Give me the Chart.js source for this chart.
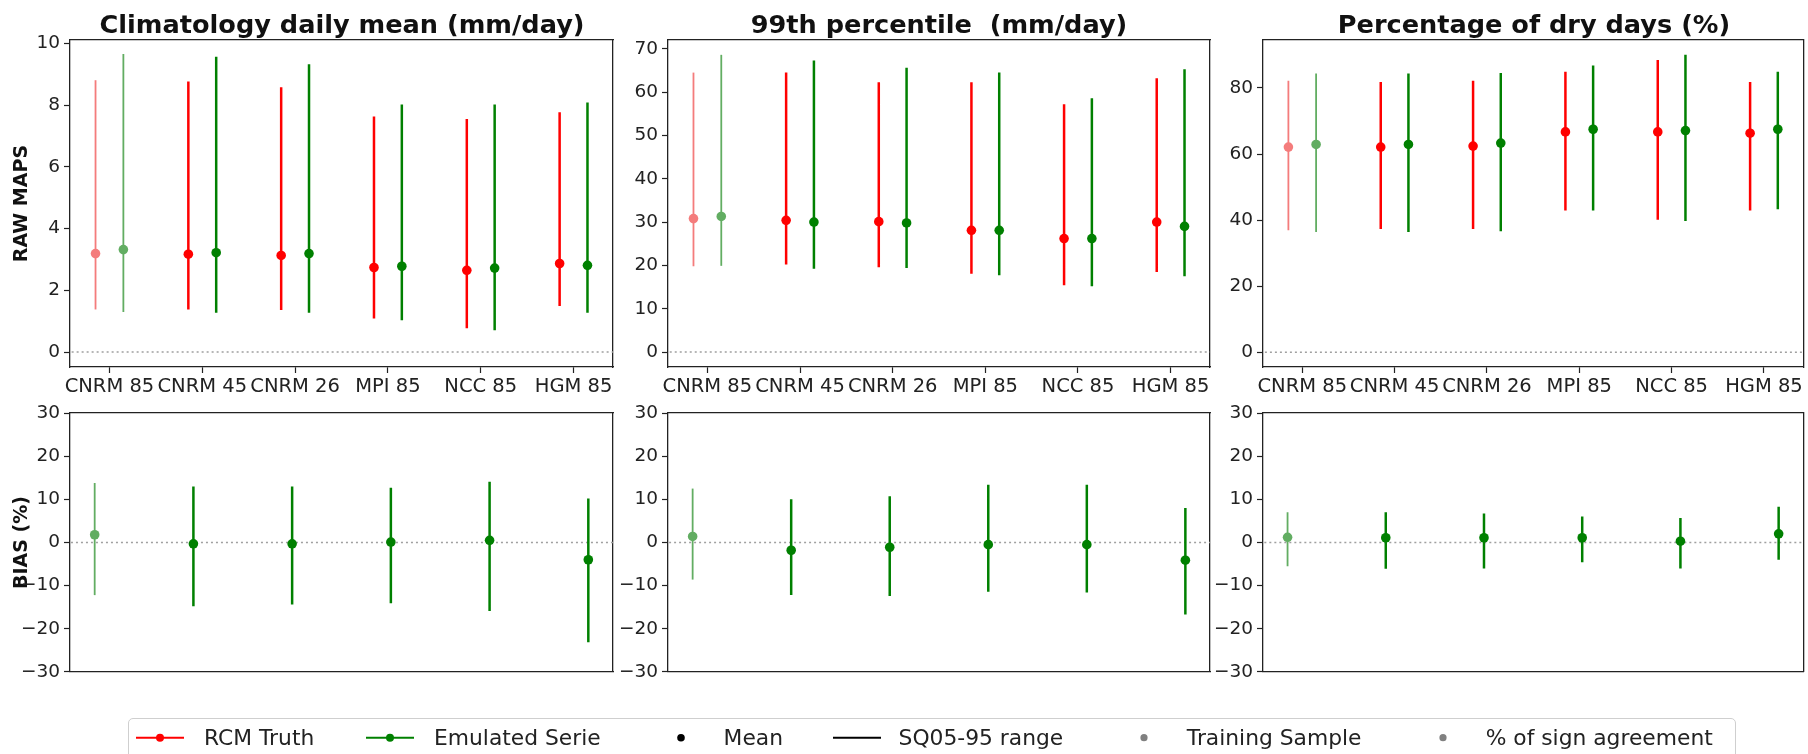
<!DOCTYPE html>
<html><head><meta charset="utf-8">
<script src="https://cdn.jsdelivr.net/npm/chart.js@4.4.1/dist/chart.umd.min.js"></script>
<style>
body{margin:0;background:#fff;}
#root{position:relative;width:1808px;height:754px;overflow:hidden;background:#fff;font-family:'DejaVu Sans',sans-serif;color:#111;}
canvas{position:absolute;}
.ttl{position:absolute;width:700px;text-align:center;font-weight:bold;font-size:25.6px;line-height:30px;white-space:pre;top:8.6px;color:#111;}
.leg{position:absolute;font-size:21.8px;line-height:26px;white-space:pre;top:724.5px;color:#222;}
#legbox{position:absolute;left:128px;top:718px;width:1608px;height:60px;border:1px solid #cfcfcf;border-radius:5px;box-sizing:border-box;}
#legsvg{position:absolute;left:0;top:0;}
</style></head>
<body><div id="root">
<canvas id="c00"></canvas><canvas id="c01"></canvas><canvas id="c02"></canvas>
<canvas id="c10"></canvas><canvas id="c11"></canvas><canvas id="c12"></canvas>
<div class="ttl" style="left:-8px">Climatology daily mean (mm/day)</div>
<div class="ttl" style="left:589px">99th percentile  (mm/day)</div>
<div class="ttl" style="left:1184px">Percentage of dry days (%)</div>
<div id="legbox"></div>
<svg id="legsvg" width="1808" height="754">
  <line x1="136" y1="737.7" x2="184" y2="737.7" stroke="#ff0000" stroke-width="2"/>
  <circle cx="160" cy="737.7" r="4" fill="#ff0000"/>
  <line x1="366" y1="737.7" x2="414" y2="737.7" stroke="#008000" stroke-width="2"/>
  <circle cx="390" cy="737.7" r="4" fill="#008000"/>
  <circle cx="681" cy="737.7" r="3.8" fill="#000"/>
  <line x1="833" y1="737.7" x2="881" y2="737.7" stroke="#000" stroke-width="2"/>
  <circle cx="1144" cy="737.7" r="3.6" fill="#808080"/>
  <circle cx="1443" cy="737.7" r="3.6" fill="#808080"/>
</svg>
<div class="leg" style="left:204px">RCM Truth</div>
<div class="leg" style="left:434px">Emulated Serie</div>
<div class="leg" style="left:723.6px">Mean</div>
<div class="leg" style="left:898.6px">SQ05-95 range</div>
<div class="leg" style="left:1186.8px">Training Sample</div>
<div class="leg" style="left:1485.7px">% of sign agreement</div>
</div>
<script>
// ---------------- data ----------------
const categories = ['CNRM 85', 'CNRM 45', 'CNRM 26', 'MPI 85', 'NCC 85', 'HGM 85'];

const ticksMean = [0, 2, 4, 6, 8, 10];
const ticksP99 = [0, 10, 20, 30, 40, 50, 60, 70];
const ticksDry = [0, 20, 40, 60, 80];
const ticksBias = [-30, -20, -10, 0, 10, 20, 30];

// Climatology daily mean (mm/day)
const rcmMeanMean = [3.19, 3.17, 3.13, 2.74, 2.65, 2.87];
const rcmMeanLo   = [1.38, 1.38, 1.36, 1.09, 0.77, 1.49];
const rcmMeanHi   = [8.81, 8.77, 8.58, 7.63, 7.55, 7.77];
const emuMeanMean = [3.32, 3.22, 3.19, 2.78, 2.72, 2.81];
const emuMeanLo   = [1.30, 1.27, 1.27, 1.03, 0.71, 1.27];
const emuMeanHi   = [9.66, 9.57, 9.33, 8.02, 8.02, 8.09];

// 99th percentile (mm/day)
const rcmP99Mean = [30.8, 30.4, 30.1, 28.1, 26.2, 30.0];
const rcmP99Lo   = [19.8, 20.2, 19.6, 18.1, 15.4, 18.5];
const rcmP99Hi   = [64.5, 64.5, 62.3, 62.3, 57.2, 63.2];
const emuP99Mean = [31.3, 30.0, 29.8, 28.1, 26.2, 29.0];
const emuP99Lo   = [19.9, 19.2, 19.4, 17.7, 15.2, 17.5];
const emuP99Hi   = [68.6, 67.3, 65.6, 64.5, 58.6, 65.3];

// Percentage of dry days (%)
const rcmDryMean = [62.1, 62.1, 62.4, 66.7, 66.7, 66.3];
const rcmDryLo   = [36.9, 37.3, 37.3, 42.9, 40.1, 42.9];
const rcmDryHi   = [82.2, 81.8, 82.2, 84.9, 88.5, 81.8];
const emuDryMean = [62.9, 62.9, 63.3, 67.5, 67.1, 67.5];
const emuDryLo   = [36.4, 36.4, 36.6, 42.9, 39.7, 43.3];
const emuDryHi   = [84.4, 84.4, 84.5, 86.8, 90.1, 84.9];

// BIAS (%)
const biasMeanMean = [1.8, -0.3, -0.3, 0.1, 0.5, -4.0];
const biasMeanLo   = [-12.2, -14.8, -14.4, -14.1, -15.9, -23.1];
const biasMeanHi   = [13.8, 13.0, 13.0, 12.7, 14.1, 10.2];
const biasP99Mean  = [1.4, -1.8, -1.1, -0.5, -0.5, -4.1];
const biasP99Lo    = [-8.6, -12.2, -12.4, -11.4, -11.6, -16.7];
const biasP99Hi    = [12.5, 10.0, 10.7, 13.4, 13.4, 8.0];
const biasDryMean  = [1.2, 1.1, 1.1, 1.1, 0.3, 2.0];
const biasDryLo    = [-5.5, -6.1, -6.0, -4.6, -6.0, -4.0];
const biasDryHi    = [7.0, 7.0, 6.7, 6.0, 5.7, 8.3];

// ---------------- styling ----------------
Chart.defaults.font.family = "'DejaVu Sans', sans-serif";
const RED = '#ff0000', RED_L = '#f47c7c';
const GREEN = '#008000', GREEN_L = '#62ad62';
const AX = '#222';
const trainIdx = [0], testIdx = [1, 2, 3, 4, 5];

function rangeData(xOff, lo, hi, idx) {
  const out = [];
  idx.forEach(i => { out.push({x: i + xOff, y: lo[i]}, {x: i + xOff, y: hi[i]}, {x: i + xOff, y: null}); });
  return out;
}
function series(xOff, mean, lo, hi, col, colL) {
  return [
    {data: rangeData(xOff, lo, hi, trainIdx), showLine: true, borderColor: colL, borderWidth: 1.8, pointRadius: 0, spanGaps: false, order: 2},
    {data: rangeData(xOff, lo, hi, testIdx), showLine: true, borderColor: col, borderWidth: 2.5, pointRadius: 0, spanGaps: false, order: 2},
    {data: mean.map((v, i) => ({x: i + xOff, y: v})), showLine: false, pointRadius: 4.8,
     pointBackgroundColor: mean.map((v, i) => trainIdx.includes(i) ? colL : col),
     pointBorderColor: mean.map((v, i) => trainIdx.includes(i) ? colL : col), pointBorderWidth: 0, order: 1}
  ];
}
function zeroLine() {
  return {data: [{x: -1, y: 0}, {x: 6, y: 0}], showLine: true, borderColor: '#a0a0a0', borderWidth: 1.5,
          borderDash: [2, 3], pointRadius: 0, order: 3};
}
const fmt = v => (v < 0 ? '\u2212' + Math.abs(v) : String(v));

function makePanel(id, o) {
  const padTop = 14, yAxisW = 70, xAxisH = o.showX ? 40 : 0, padBottom = o.showX ? 0 : 14;
  const cv = document.getElementById(id);
  cv.width = yAxisW + o.plotW + o.padRight;
  cv.height = padTop + o.plotH + xAxisH + padBottom;
  cv.style.left = (o.left - yAxisW) + 'px';
  cv.style.top = (o.top - padTop) + 'px';
  const border = {display: true, color: AX, width: 1.3};
  new Chart(cv, {
    type: 'scatter',
    data: {datasets: o.datasets},
    options: {
      responsive: false, animation: false, devicePixelRatio: 1,
      layout: {padding: {left: 0, top: padTop, right: o.padRight, bottom: padBottom}},
      plugins: {legend: {display: false}, tooltip: {enabled: false}, title: {display: false}},
      scales: {
        x: {
          type: 'linear', position: 'bottom', min: o.xMin, max: o.xMax,
          afterBuildTicks: s => { s.ticks = categories.map((c, i) => ({value: i})); },
          afterFit: s => { s.height = xAxisH; },
          ticks: {display: o.showX, autoSkip: false, maxRotation: 0, minRotation: 0, padding: 2,
                  color: AX, font: {size: 19.5}, callback: v => categories[v]},
          grid: {display: o.showX, drawOnChartArea: false, drawTicks: true, tickLength: 6, tickWidth: 1.2, color: AX},
          border: border
        },
        xTop: {
          type: 'linear', position: 'top', min: o.xMin, max: o.xMax,
          ticks: {display: false}, grid: {display: false}, border: border,
          afterFit: s => { s.height = 0; }
        },
        y: {
          type: 'linear', position: 'left', min: o.yMin, max: o.yMax,
          afterBuildTicks: s => { s.ticks = o.yTicks.map(v => ({value: v})); },
          afterFit: s => { s.width = yAxisW; },
          ticks: {padding: 4, color: AX, font: {size: 18.5}, callback: v => fmt(v)},
          grid: {drawOnChartArea: false, drawTicks: true, tickLength: 6, tickWidth: 1.2, color: AX},
          border: border,
          title: {display: !!o.yTitle, text: o.yTitle || '', color: '#111',
                  font: {size: 19, weight: 'bold'}, padding: {top: 10.3, bottom: 0}}
        },
        yRight: {
          type: 'linear', position: 'right', min: o.yMin, max: o.yMax,
          ticks: {display: false}, grid: {display: false}, border: border,
          afterFit: s => { s.width = 0; }
        }
      }
    }
  });
}

const colLeft = [70, 668, 1263], colW = [543, 542, 542], padR = [10, 10, 3];
const OFF = 0.15;

const topCfg = [
  {yMin: -0.485, yMax: 10.11, yTicks: ticksMean, yTitle: 'RAW MAPS',
   ds: [].concat(series(-OFF, rcmMeanMean, rcmMeanLo, rcmMeanHi, RED, RED_L), series(OFF, emuMeanMean, emuMeanLo, emuMeanHi, GREEN, GREEN_L))},
  {yMin: -3.45, yMax: 72.0, yTicks: ticksP99,
   ds: [].concat(series(-OFF, rcmP99Mean, rcmP99Lo, rcmP99Hi, RED, RED_L), series(OFF, emuP99Mean, emuP99Lo, emuP99Hi, GREEN, GREEN_L))},
  {yMin: -4.5, yMax: 94.5, yTicks: ticksDry,
   ds: [].concat(series(-OFF, rcmDryMean, rcmDryLo, rcmDryHi, RED, RED_L), series(OFF, emuDryMean, emuDryLo, emuDryHi, GREEN, GREEN_L))}
];
const botCfg = [
  {yTitle: 'BIAS (%)', ds: series(0, biasMeanMean, biasMeanLo, biasMeanHi, GREEN, GREEN_L)},
  {ds: series(0, biasP99Mean, biasP99Lo, biasP99Hi, GREEN, GREEN_L)},
  {ds: series(0, biasDryMean, biasDryLo, biasDryHi, GREEN, GREEN_L)}
];

topCfg.forEach((c, k) => {
  makePanel('c0' + k, {left: colLeft[k], top: 39, plotW: colW[k], plotH: 328, padRight: padR[k], showX: true,
    xMin: -0.425, xMax: 5.425, yMin: c.yMin, yMax: c.yMax, yTicks: c.yTicks, yTitle: c.yTitle,
    datasets: c.ds.concat([zeroLine()])});
});
botCfg.forEach((c, k) => {
  makePanel('c1' + k, {left: colLeft[k], top: 412, plotW: colW[k], plotH: 261, padRight: padR[k], showX: false,
    xMin: -0.25, xMax: 5.25, yMin: -30, yMax: 30, yTicks: ticksBias, yTitle: c.yTitle,
    datasets: c.ds.concat([zeroLine()])});
});
</script>
</body></html>
